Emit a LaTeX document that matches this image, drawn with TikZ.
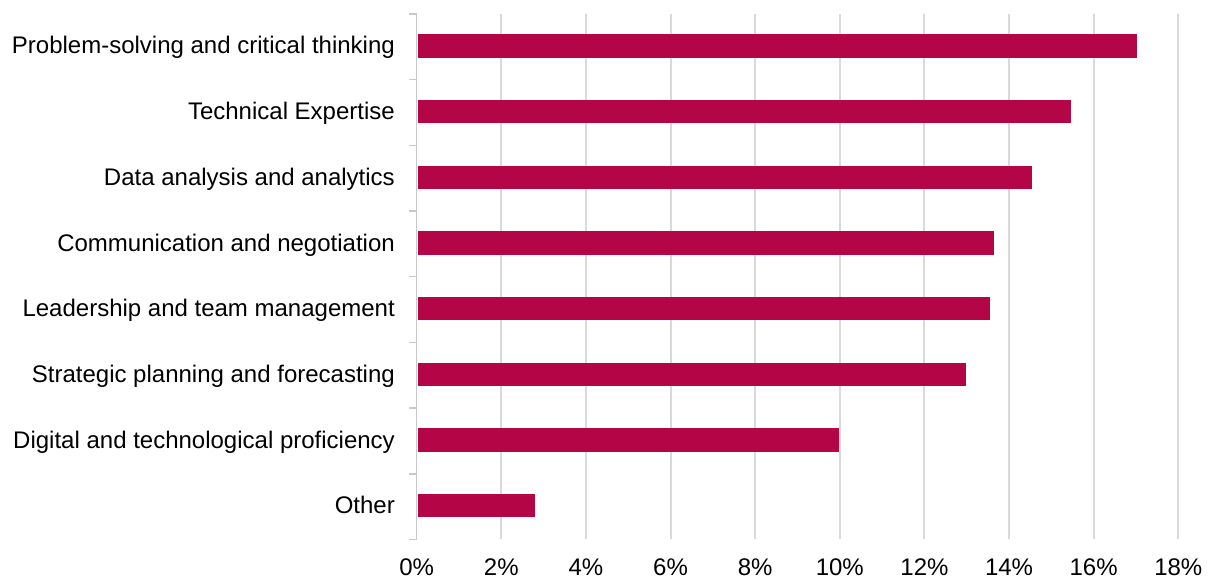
\documentclass[tikz,border=0pt]{standalone}
\usepackage{fontspec}
\setmainfont{Liberation Sans}
\definecolor{barc}{RGB}{180,6,70}
\definecolor{gridc}{RGB}{217,217,217}
\definecolor{axisc}{RGB}{200,200,200}
\begin{document}
\begin{tikzpicture}[x=1pt,y=-1pt,
  bar/.style={fill=barc,draw=none},
  grid/.style={draw=gridc,line width=2pt},
  axisl/.style={draw=axisc,line width=1.5pt},
  catlab/.style={anchor=base east,inner sep=0pt,font=\fontsize{24}{28}\selectfont},
  ticklab/.style={anchor=base,inner sep=0pt,font=\fontsize{24}{28}\selectfont}]
\useasboundingbox (0,0) rectangle (1211,578);
% gridlines
\foreach \i in {1,...,9}{
  \draw[grid] ({416.7+\i*84.62},14) -- ({416.7+\i*84.62},539.4);
}
% axis
\draw[axisl] (416.7,14) -- (416.7,539.4);
\foreach \k in {0,...,8}{
  \draw[axisl] (409,{14+\k*65.68}) -- (416.7,{14+\k*65.68});
}
% tick labels
\foreach \i in {0,...,9}{
  \pgfmathtruncatemacro{\v}{2*\i}
  \node[ticklab] (t\i) at ({416.7+\i*84.62},575) {\v\%};
}
% bars
\foreach \val/\lab [count=\k from 0] in {
  17.02/Problem-solving and critical thinking,
  15.46/Technical Expertise,
  14.55/Data analysis and analytics,
  13.65/Communication and negotiation,
  13.55/Leadership and team management,
  12.98/Strategic planning and forecasting,
  9.97/Digital and technological proficiency,
  2.80/Other}{
  \fill[bar] (417.5,{46+\k*65.68-11.6}) rectangle ({416.7+\val*42.31},{46+\k*65.68+11.6});
  \node[catlab] (c\k) at (395,{46+\k*65.68+8}) {\lab};
}
\end{tikzpicture}
\end{document}
